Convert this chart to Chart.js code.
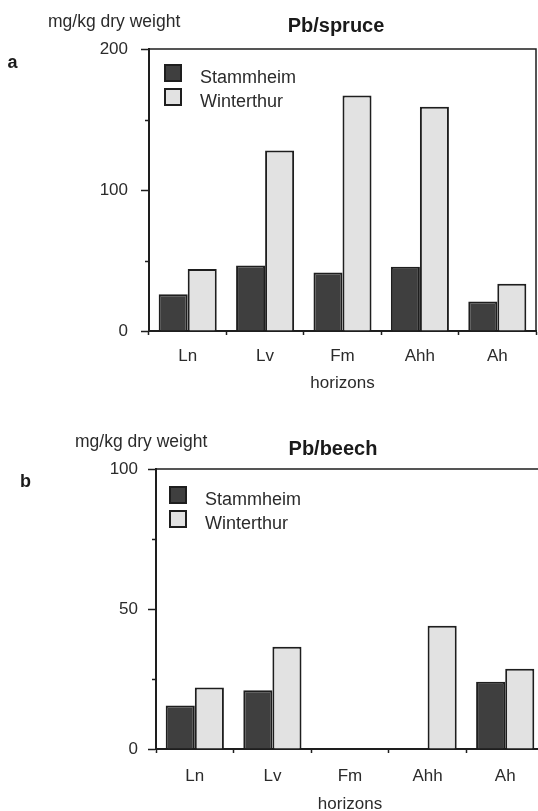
<!DOCTYPE html>
<html>
<head>
<meta charset="utf-8">
<script src="https://cdn.jsdelivr.net/npm/chart.js@4.4.1/dist/chart.umd.min.js"></script>
<style>
  html, body { margin: 0; padding: 0; background: #fff; overflow: hidden; width: 538px; height: 811px; }
  #wrapA { position: absolute; left: 0; top: 0; width: 538px; height: 400px; }
  #wrapB { position: absolute; left: 0; top: 400px; width: 546px; height: 420px; }
</style>
</head>
<body>
<div id="wrapA"><canvas id="spruceChart" width="538" height="400"></canvas></div>
<div id="wrapB"><canvas id="beechChart" width="546" height="420"></canvas></div>
<script>
// Datos
const horizons = ['Ln', 'Lv', 'Fm', 'Ahh', 'Ah'];
const seriesNames = ['Stammheim', 'Winterthur'];

const spruceStammheim = [26, 46.5, 41.5, 45.5, 21];
const spruceWinterthur = [44, 128, 167, 159, 33.5];
const spruceTicks = [0, 100, 200];
const spruceMinorTicks = [50, 150];

const beechStammheim = [15.5, 21, null, null, 24];
const beechWinterthur = [22, 36.5, null, 44, 28.7];
const beechTicks = [0, 50, 100];
const beechMinorTicks = [25, 75];

const INK = '#1e1e1e';
const TEXT = '#2b2b2b';
const DARK = '#3f3f3f';
const LIGHT = '#e2e2e2';

Chart.defaults.font.family = '"Liberation Sans", Arial, Helvetica, sans-serif';
Chart.defaults.color = TEXT;

// Marco, ticks menores, leyenda y textos
const framePlugin = {
    id: 'frame',
    afterDraw(chart, args, o) {
        const { ctx, chartArea: a } = chart;
        const y = chart.scales.y;
        ctx.save();
        ctx.strokeStyle = INK;
        ctx.lineWidth = 1.5;
        ctx.beginPath();
        ctx.moveTo(a.left, a.top);
        ctx.lineTo(a.right, a.top);
        ctx.lineTo(a.right, a.bottom);
        ctx.stroke();

        ctx.beginPath();
        o.minor.forEach(v => {
            const py = Math.round(y.getPixelForValue(v)) + 0.5;
            ctx.moveTo(a.left - 4, py);
            ctx.lineTo(a.left, py);
        });
        ctx.stroke();

        // leyenda
        ctx.font = '18px "Liberation Sans", Arial, sans-serif';
        ctx.textAlign = 'left';
        ctx.textBaseline = 'alphabetic';
        chart.data.datasets.forEach((ds, i) => {
            const sx = a.left + o.legendDx;
            const sy = a.top + o.legendDy + i * 24;
            ctx.fillStyle = ds.backgroundColor;
            ctx.fillRect(sx, sy, 18, 18);
            ctx.lineWidth = 2;
            ctx.strokeStyle = INK;
            ctx.strokeRect(sx + 1, sy + 1, 16, 16);
            ctx.fillStyle = TEXT;
            ctx.fillText(ds.label, sx + 36, sy + 18.5);
        });

        // unidades, título y letra
        ctx.fillStyle = TEXT;
        ctx.font = '17.5px "Liberation Sans", Arial, sans-serif';
        ctx.fillText(o.unit, o.unitX, o.unitY);
        ctx.font = 'bold 20px "Liberation Sans", Arial, sans-serif';
        ctx.textAlign = 'center';
        ctx.fillStyle = '#1a1a1a';
        ctx.fillText(o.title, o.titleX, o.titleY);
        ctx.font = 'bold 18px "Liberation Sans", Arial, sans-serif';
        ctx.fillText(o.letter, o.letterX, o.letterY);
        ctx.restore();
    }
};

function createBarChart(canvasId, stamm, winter, ticks, p) {
    const canvas = document.getElementById(canvasId);
    const ctx = canvas.getContext('2d');
    return new Chart(ctx, {
        type: 'bar',
        data: {
            labels: horizons,
            datasets: [
                { label: seriesNames[0], data: stamm, backgroundColor: DARK, borderColor: INK, borderWidth: 2 },
                { label: seriesNames[1], data: winter, backgroundColor: LIGHT, borderColor: INK, borderWidth: 2 }
            ]
        },
        options: {
            responsive: false,
            devicePixelRatio: 1,
            animation: false,
            layout: { padding: { top: p.top, right: p.right, left: 0, bottom: 0 } },
            datasets: { bar: { categoryPercentage: 0.75, barPercentage: 1.0 } },
            plugins: {
                legend: { display: false },
                tooltip: { enabled: false },
                frame: p.frame
            },
            scales: {
                x: {
                    grid: { drawOnChartArea: false, tickLength: 4, color: INK, tickWidth: 1.5 },
                    border: { display: true, color: INK, width: 2 },
                    ticks: { font: { size: 17 }, padding: p.xPad, color: TEXT },
                    title: { display: true, text: 'horizons', font: { size: 17 }, color: TEXT, padding: { top: 0, bottom: p.titlePad } },
                    afterFit: s => { s.height = p.xHeight; }
                },
                y: {
                    min: 0,
                    max: ticks[ticks.length - 1],
                    grid: { drawOnChartArea: false, tickLength: 8, color: INK, tickWidth: 1.5 },
                    border: { display: true, color: INK, width: 2 },
                    ticks: { font: { size: 17 }, padding: p.yPad, color: TEXT },
                    afterBuildTicks: s => { s.ticks = ticks.map(v => ({ value: v })); },
                    afterFit: s => { s.width = p.yWidth; }
                }
            }
        },
        plugins: [framePlugin]
    });
}

document.addEventListener('DOMContentLoaded', () => {
    createBarChart('spruceChart', spruceStammheim, spruceWinterthur, spruceTicks, {
        top: 49, right: 2, yWidth: 149, xHeight: 69, xPad: 11, yPad: 13, titlePad: 6,
        frame: {
            minor: spruceMinorTicks, legendDx: 15, legendDy: 15,
            unit: 'mg/kg dry weight', unitX: 48, unitY: 27,
            title: 'Pb/spruce', titleX: 336, titleY: 32,
            letter: 'a', letterX: 12.5, letterY: 68
        }
    });
    createBarChart('beechChart', beechStammheim, beechWinterthur, beechTicks, {
        top: 69, right: 2, yWidth: 156, xHeight: 71, xPad: 13, yPad: 10, titlePad: 5,
        frame: {
            minor: beechMinorTicks, legendDx: 13, legendDy: 17,
            unit: 'mg/kg dry weight', unitX: 75, unitY: 47,
            title: 'Pb/beech', titleX: 333, titleY: 55,
            letter: 'b', letterX: 25.5, letterY: 87
        }
    });
});
</script>
</body>
</html>
